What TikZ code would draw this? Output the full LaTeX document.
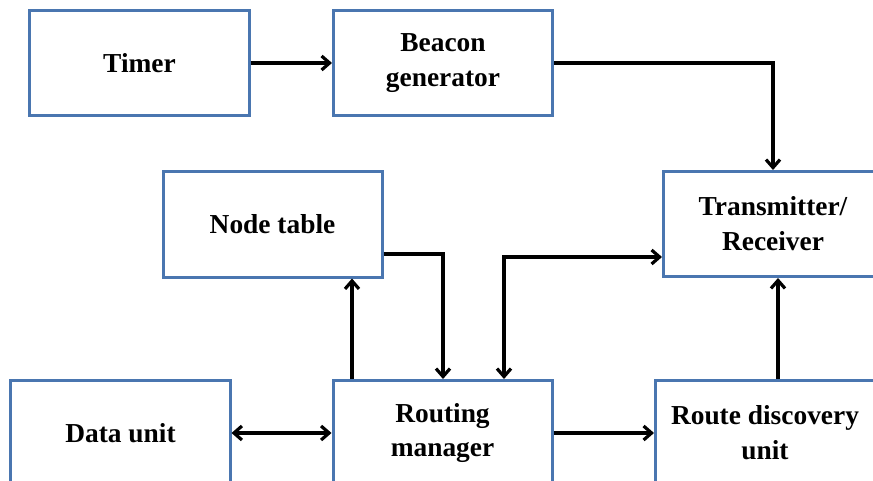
\documentclass[tikz,border=0pt]{standalone}
\usepackage{fontspec}
\setmainfont{Liberation Serif}
\usetikzlibrary{arrows.meta}
\definecolor{boxblue}{RGB}{74,118,176}
\tikzset{
  blk/.style={draw=boxblue, line width=3bp, fill=white, minimum width=219bp, minimum height=105bp,
    inner sep=0pt, align=center, font=\fontsize{27.5}{35}\selectfont\bfseries},
  tip/.tip={Straight Barb[length=8bp,width=14bp,line width=3.2bp]},
  conn/.style={line width=3.4bp, draw=black, arrows={-tip}},
  conn2/.style={line width=3.4bp, draw=black, arrows={tip-tip}},
}
\begin{document}
\begin{tikzpicture}[x=1bp,y=-1bp]
\useasboundingbox (0,0) rectangle (873,481);
\clip (0,0) rectangle (873,481);
\node[blk] (tm) at (139.5,63) {Timer};
\node[blk] (bg) at (443,63) {Beacon\\generator};
\node[blk] (nt) at (272.5,224.5) {Node table};
\node[blk] (trx) at (773,224) {Transmitter/\\Receiver};
\node[blk] (du) at (120.5,433) {Data unit};
\node[blk] (rm) at (442.5,433) {Routing\\manager};
\node[blk] (rd) at (765,433) {Route discovery\\unit};
\coordinate (c1) at (443,254);
\coordinate (c2) at (773,0);
\coordinate (c3) at (504,257);
\coordinate (c4) at (352,0);
\coordinate (c5) at (778,0);
\draw[conn] (tm.east) -- (bg.west);
\draw[conn] (bg.east) -| (c2 |- trx.north);
\draw[conn] (nt.east |- c1) -| (c1 |- rm.north);
\draw[conn2] (c3 |- rm.north) |- (trx.west |- c3);
\draw[conn] (c4 |- rm.north) -- (c4 |- nt.south);
\draw[conn2] (du.east) -- (rm.west);
\draw[conn] (rm.east) -- (rd.west);
\draw[conn] (c5 |- rd.north) -- (c5 |- trx.south);
\end{tikzpicture}
\end{document}
